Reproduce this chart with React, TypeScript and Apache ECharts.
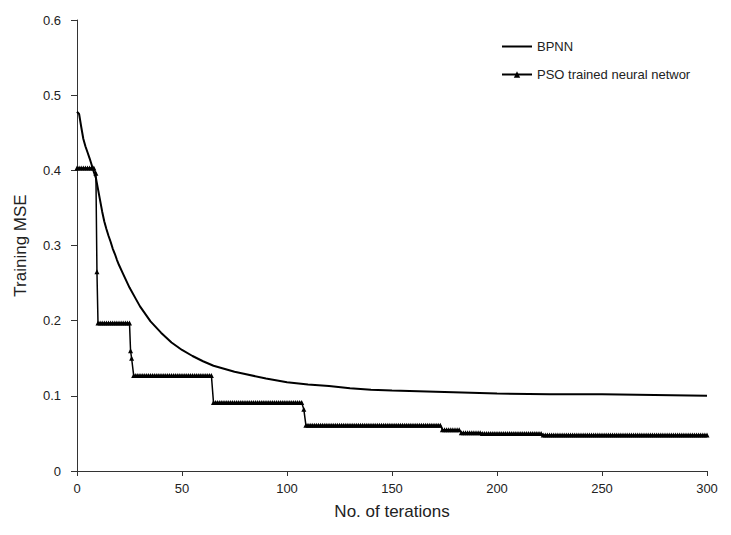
import React, { useEffect, useRef } from "react";
import * as echarts from "echarts";

// BPNN curve: [iteration, MSE]
const bpnnX = [0, 1, 2, 3, 4, 5, 6, 7, 8, 9, 10, 11, 12, 13, 14, 15, 16, 17, 18, 19, 20, 22, 25, 28, 30, 35, 40, 45, 50, 55, 60, 65, 70, 75, 80, 90, 100, 110, 120, 130, 140, 150, 175, 200, 225, 250, 275, 300];
const bpnnY = [0.478, 0.475, 0.458, 0.442, 0.432, 0.424, 0.416, 0.407, 0.398, 0.39, 0.375, 0.36, 0.345, 0.332, 0.322, 0.313, 0.305, 0.296, 0.289, 0.281, 0.274, 0.262, 0.244, 0.229, 0.219, 0.199, 0.184, 0.171, 0.161, 0.153, 0.146, 0.14, 0.136, 0.132, 0.129, 0.123, 0.118, 0.115, 0.113, 0.11, 0.108, 0.107, 0.105, 0.103, 0.102, 0.102, 0.101, 0.1];

// PSO: constant runs [startIter, endIter, MSE] (value held each iteration)
const psoRunStart = [0, 10, 27, 65, 109, 174, 183, 193, 222];
const psoRunEnd = [8, 25, 64, 107, 173, 182, 192, 221, 300];
const psoRunValue = [0.403, 0.197, 0.127, 0.091, 0.061, 0.055, 0.051, 0.05, 0.048];
// PSO transitional points between runs
const psoStepX = [9, 9.5, 25.5, 26, 108];
const psoStepY = [0.396, 0.265, 0.16, 0.15, 0.082];

const xTicks = { min: 0, max: 300, interval: 50 };
const yTicks = { min: 0, max: 0.6, interval: 0.1 };

export default function App() {
  const ref = useRef<HTMLDivElement>(null);
  useEffect(() => {
    document.body.style.margin = "0";
    const chart = echarts.init(ref.current!, null, { renderer: "svg" });
    const bpnn = bpnnX.map((x, i) => [x, bpnnY[i]]);
    const pso: number[][] = [];
    psoRunStart.forEach((s, i) => {
      for (let x = s; x <= psoRunEnd[i]; x++) pso.push([x, psoRunValue[i]]);
    });
    psoStepX.forEach((x, i) => pso.push([x, psoStepY[i]]));
    pso.sort((a, b) => a[0] - b[0] || b[1] - a[1]);
    const font = "Liberation Sans";
    const axisColor = "#333";
    chart.setOption({
      animation: false,
      backgroundColor: "#fff",
      textStyle: { fontFamily: font },
      grid: { left: 77, right: 24, top: 20, bottom: 64, containLabel: false },
      legend: {
        orient: "vertical",
        left: 496,
        top: 35,
        itemWidth: 30,
        itemHeight: 8,
        itemGap: 15,
        textStyle: { fontFamily: font, fontSize: 13, color: "#222" },
        data: [
          { name: "BPNN", icon: "path://M0,0 L30,0 L30,2 L0,2 Z" },
          { name: "PSO trained neural networ" },
        ],
      },
      xAxis: {
        type: "value",
        ...xTicks,
        name: "No. of terations",
        nameLocation: "middle",
        nameGap: 32,
        nameTextStyle: { fontFamily: font, fontSize: 17, color: "#222" },
        axisLine: { show: true, lineStyle: { color: axisColor, width: 1 } },
        axisTick: { show: true, length: 5, lineStyle: { color: axisColor } },
        axisLabel: { margin: 11, fontSize: 13, color: "#222", fontFamily: font },
        splitLine: { show: false },
      },
      yAxis: {
        type: "value",
        ...yTicks,
        name: "Training MSE",
        nameLocation: "middle",
        nameGap: 48,
        nameTextStyle: { fontFamily: font, fontSize: 17, color: "#222" },
        axisLine: { show: true, lineStyle: { color: axisColor, width: 1 } },
        axisTick: { show: true, length: 6, lineStyle: { color: axisColor } },
        axisLabel: { margin: 16, fontSize: 13, color: "#222", fontFamily: font },
        splitLine: { show: false },
      },
      series: [
        {
          name: "BPNN",
          type: "line",
          data: bpnn,
          symbol: "none",
          lineStyle: { color: "#000", width: 2 },
          itemStyle: { color: "#000" },
        },
        {
          name: "PSO trained neural networ",
          type: "line",
          data: pso,
          symbol: "triangle",
          symbolSize: 5,
          showAllSymbol: true,
          lineStyle: { color: "#000", width: 1.5 },
          itemStyle: { color: "#000" },
        },
      ],
    });
    return () => chart.dispose();
  }, []);
  return <div ref={ref} style={{ width: 731, height: 535 }} />;
}
